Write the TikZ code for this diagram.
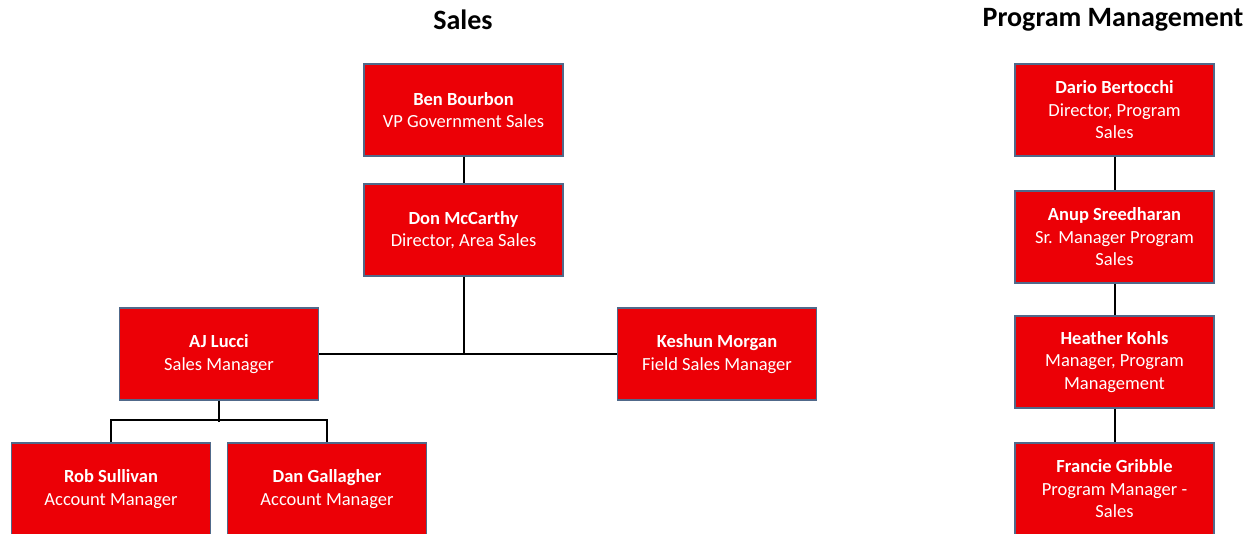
\documentclass[tikz,border=0pt]{standalone}
\usepackage{fontspec}
\setmainfont{Carlito}
\usetikzlibrary{positioning}
\definecolor{boxred}{RGB}{236,0,6}
\definecolor{boxedge}{HTML}{50698A}
\tikzset{
  person/.style={draw=boxedge,line width=1.2pt,fill=boxred,text=white,
    minimum width=199pt,minimum height=92pt,inner sep=0pt,align=center,
    font=\fontsize{18.5}{22.5}\selectfont},
  link/.style={line width=2pt,black},
  head/.style={font=\fontsize{28}{32}\selectfont\bfseries}
}

\begin{document}
\begin{tikzpicture}[x=1pt,y=-1pt]
\useasboundingbox (0,0) rectangle (1257,533);
\clip (0,0) rectangle (1257,533);
% ---- sales ----
\node[head] (sales) at (463,20) {Sales};
\node[person] (ben) at (463.5,110) {\textbf{Ben Bourbon}\\VP Government Sales};
\node[person] (don) at (463.5,230) {\textbf{Don McCarthy}\\Director, Area Sales};
\node[person] (aj) at (219,354) {\textbf{AJ Lucci}\\Sales Manager};
\node[person] (keshun) at (717,354) {\textbf{Keshun Morgan}\\Field Sales Manager};
\node[person] (rob) at (111,489) {\textbf{Rob Sullivan}\\Account Manager};
\node[person] (dan) at (327,489) {\textbf{Dan Gallagher}\\Account Manager};
\draw[link] (ben) -- (don);
\draw[link] (don.south) -- (don.south |- aj.east);
\draw[link] (aj.east) -- (keshun.west);
\draw[link] (aj.south) -- ++(0,21);
\draw[link] (rob.north) -- ++(0,-22) -| (dan.north);
% ---- program management ----
\node[head] (pm) at (1113,20) {Program Management};
\node[person] (dario) at (1114.5,110) {\textbf{Dario Bertocchi}\\Director, Program\\Sales};
\node[person] (anup) at (1114.5,237) {\textbf{Anup Sreedharan}\\Sr. Manager Program\\Sales};
\node[person] (heather) at (1114.5,362) {\textbf{Heather Kohls}\\Manager, Program\\Management};
\node[person] (francie) at (1114.5,489) {\textbf{Francie Gribble}\\Program Manager -\\Sales};
\draw[link] (dario) -- (anup);
\draw[link] (anup) -- (heather);
\draw[link] (heather) -- (francie);
\end{tikzpicture}
\end{document}
